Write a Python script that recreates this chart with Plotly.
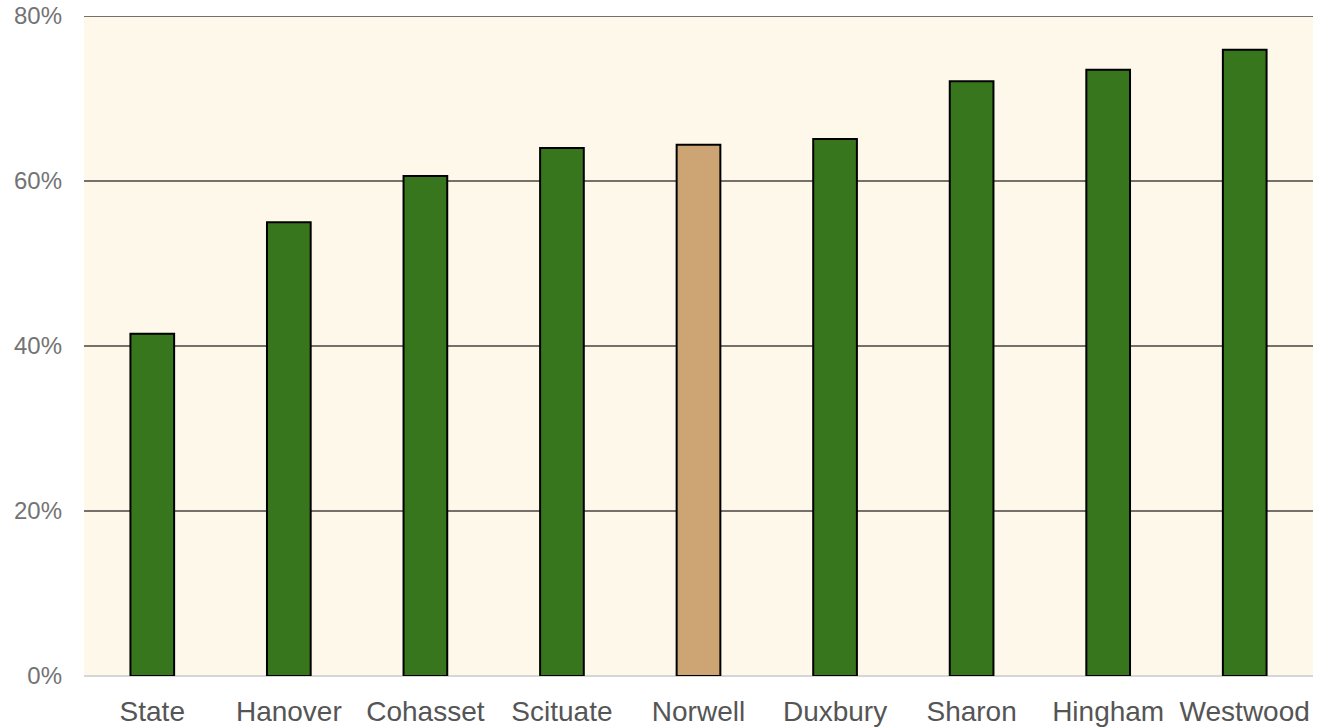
import plotly.graph_objects as go

categories = ["State", "Hanover", "Cohasset", "Scituate", "Norwell", "Duxbury", "Sharon", "Hingham", "Westwood"]
values = [41.5, 55.0, 60.6, 64.0, 64.4, 65.1, 72.1, 73.5, 75.9]
highlight = "Norwell"
y_ticks = [0, 20, 40, 60, 80]
y_tick_labels = ["0%", "20%", "40%", "60%", "80%"]

colors = ["#cda575" if c == highlight else "#38761d" for c in categories]

fig = go.Figure(go.Bar(
    x=categories, y=values,
    marker=dict(color=colors, line=dict(color="#000000", width=2)),
    width=0.32,
))

fig.update_layout(
    width=1318, height=727,
    margin=dict(l=84, r=5, t=16, b=51, autoexpand=False),
    plot_bgcolor="#fef8ea",
    paper_bgcolor="#ffffff",
    showlegend=False,
    font=dict(family="Liberation Sans, Arial, sans-serif", size=24, color="#666666"),
)
fig.update_yaxes(
    range=[0, 80], tickvals=y_ticks, ticktext=y_tick_labels,
    showgrid=True, gridcolor="#75706b", gridwidth=2,
    zeroline=True, zerolinecolor="#d6d6d6", zerolinewidth=2,
    ticks="", tickfont=dict(size=24, color="#737373"),
    ticklabelstandoff=21, ticklabeloverflow="allow",
    showline=False, automargin=False,
)
fig.update_xaxes(
    showgrid=False, ticks="", tickfont=dict(size=28, color="#555555"),
    showline=False, automargin=False, ticklabelstandoff=16,
)
fig.add_shape(type="line", xref="paper", yref="y", x0=0, x1=1, y0=y_ticks[-1], y1=y_ticks[-1],
              line=dict(color="#75706b", width=2), layer="above")

fig.write_html("out.html", config={"displayModeBar": False},
               post_script="document.body.style.margin='0';document.body.style.overflow='hidden';")
